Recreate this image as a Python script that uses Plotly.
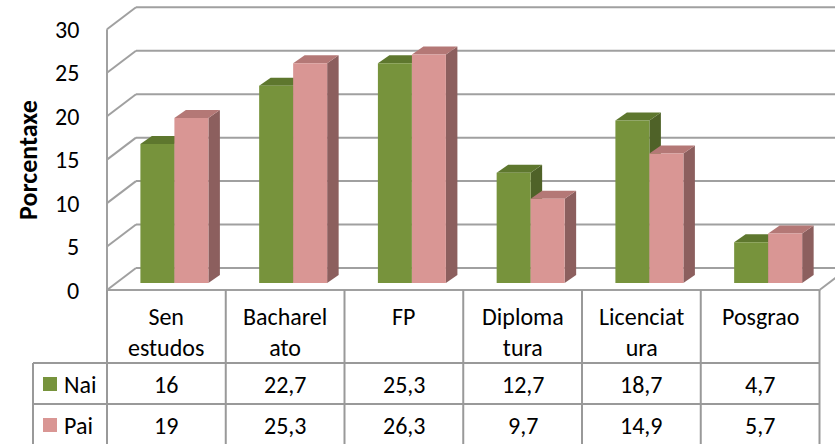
import plotly.graph_objects as go

# ---------------- data ----------------
categories = ["Sen estudos", "Bacharelato", "FP", "Diplomatura", "Licenciatura", "Posgrao"]
header_labels = ["Sen<br>estudos", "Bacharel<br>ato", "FP", "Diploma<br>tura", "Licenciat<br>ura", "Posgrao"]
series_names = ["Nai", "Pai"]
nai = [16, 22.7, 25.3, 12.7, 18.7, 4.7]
pai = [19, 25.3, 26.3, 9.7, 14.9, 5.7]
y_ticks = [0, 5, 10, 15, 20, 25, 30]
y_title = "Porcentaxe"

# ---------------- styling / geometry ----------------
W, H = 835, 444
KY = 8.69          # px per value unit
KX = 118.75        # px per category
X0PX = 174.4       # pixel x of category 0 (bar pair centre)
Y0PX = 283.0       # pixel y of value 0 on the bar plane
FONT = "Carlito, Lato, sans-serif"
FS = 24
TITLE_FS = 26
GRID = "#a0a0a0"
TABLE = "#999999"
front_cols = ["#77933c", "#d99694"]
top_cols = ["#5e772e", "#b47876"]
side_cols = ["#4f6228", "#8c5f5e"]

xr = [-X0PX / KX, (W - X0PX) / KX]
yr = [(Y0PX - H) / KY, Y0PX / KY]

def dxu(p):
    return p / KX

def dyu(p):
    return p / KY

def px_x(p):  # pixel -> data x
    return (p - X0PX) / KX

def pp_x(p):
    return p / W

def pp_y(p):
    return 1 - p / H

BW = dxu(34)
DX, DY = dxu(11.5), dyu(8)
FO = -dyu(7)     # front plane offset
BO = dyu(15)     # back wall offset
LX = px_x(107)   # front-left x
BLX = px_x(136)  # back-left x
RX = LX + len(categories)  # front-right x

fig = go.Figure()
xs = list(range(len(categories)))
for k, (name, vals) in enumerate(zip(series_names, [nai, pai])):
    fig.add_trace(go.Bar(
        x=xs, y=vals, name=name, width=BW, offset=(-BW if k == 0 else 0),
        marker=dict(color=front_cols[k], line=dict(width=0)), showlegend=False,
        hoverinfo="x+y"))

shapes = []
line = dict(color=GRID, width=2)
# back wall gridlines + left wall diagonals
for v in y_ticks:
    shapes.append(dict(type="line", xref="x", yref="y", x0=BLX, x1=xr[1] + 1,
                       y0=v + BO, y1=v + BO, line=line, layer="below"))
    shapes.append(dict(type="line", xref="x", yref="y", x0=LX, x1=BLX,
                       y0=v + FO, y1=v + BO, line=line, layer="below"))
# front-left vertical axis
shapes.append(dict(type="line", xref="x", yref="y", x0=LX, x1=LX,
                   y0=y_ticks[0] + FO, y1=y_ticks[-1] + FO, line=line, layer="below"))
# floor front edge and right diagonal
shapes.append(dict(type="line", xref="x", yref="y", x0=LX, x1=RX,
                   y0=FO, y1=FO, line=line, layer="below"))
shapes.append(dict(type="line", xref="x", yref="y", x0=RX, x1=RX + (BLX - LX),
                   y0=FO, y1=BO, line=line, layer="below"))

# 3D faces of bars
def poly(pts):
    return "M " + " L ".join(f"{x},{y}" for x, y in pts) + " Z"

for k, vals in enumerate([nai, pai]):
    for i, v in enumerate(vals):
        xl = i - BW if k == 0 else i
        xrr = xl + BW
        side = [(xrr, 0), (xrr + DX, DY), (xrr + DX, v + DY), (xrr, v)]
        top = [(xl, v), (xrr, v), (xrr + DX, v + DY), (xl + DX, v + DY)]
        shapes.append(dict(type="path", xref="x", yref="y", path=poly(side),
                           fillcolor=side_cols[k], line=dict(width=0), layer="below"))
        shapes.append(dict(type="path", xref="x", yref="y", path=poly(top),
                           fillcolor=top_cols[k], line=dict(width=0), layer="below"))

# data table grid
tline = dict(color=TABLE, width=2)
row_y = [290, 363, 404]
for j in range(len(categories) + 1):
    shapes.append(dict(type="line", xref="x", yref="paper", x0=LX + j, x1=LX + j,
                       y0=pp_y(290), y1=pp_y(H + 5), line=tline))
shapes.append(dict(type="line", xref="paper", yref="paper", x0=pp_x(33), x1=pp_x(33),
                   y0=pp_y(363), y1=pp_y(H + 5), line=tline))
for ry in row_y[1:]:
    shapes.append(dict(type="line", xref="paper", yref="paper", x0=pp_x(33), x1=pp_x(107) + (RX - LX) * KX / W,
                       y0=pp_y(ry), y1=pp_y(ry), line=tline))
# legend keys
key_y = [384, 425]
for k in range(2):
    shapes.append(dict(type="rect", xref="paper", yref="paper", x0=pp_x(43), x1=pp_x(57),
                       y0=pp_y(key_y[k] - 7), y1=pp_y(key_y[k] + 7),
                       fillcolor=front_cols[k], line=dict(width=0)))

ann = []
font = dict(family=FONT, size=FS, color="#000000")
for v in y_ticks:
    ann.append(dict(xref="paper", yref="y", x=pp_x(81), y=v + FO, text=str(v),
                    xanchor="right", yanchor="middle", showarrow=False, font=font))
ann.append(dict(xref="paper", yref="paper", x=pp_x(28), y=pp_y(160), text=f"<b>{y_title}</b>",
                textangle=-90, showarrow=False, font=dict(family=FONT, size=TITLE_FS, color="#000000"),
                xanchor="center", yanchor="middle"))
for i, lab in enumerate(header_labels):
    ann.append(dict(xref="x", yref="paper", x=LX + i + 0.5, y=pp_y(300), text=lab,
                    xanchor="center", yanchor="top", showarrow=False, font=font))

def fmt(v):
    return f"{v:g}".replace(".", ",")

for k, vals in enumerate([nai, pai]):
    for i, v in enumerate(vals):
        ann.append(dict(xref="x", yref="paper", x=LX + i + 0.5, y=pp_y(key_y[k]), text=fmt(v),
                        xanchor="center", yanchor="middle", showarrow=False, font=font))
    ann.append(dict(xref="paper", yref="paper", x=pp_x(62), y=pp_y(key_y[k]), text=series_names[k],
                    xanchor="left", yanchor="middle", showarrow=False, font=font))

fig.update_layout(
    width=W, height=H, autosize=False,
    margin=dict(l=0, r=0, t=0, b=0, pad=0),
    paper_bgcolor="white", plot_bgcolor="white",
    barmode="overlay",
    xaxis=dict(range=xr, visible=False, fixedrange=True),
    yaxis=dict(range=yr, visible=False, fixedrange=True),
    shapes=shapes, annotations=ann, showlegend=False,
)
fig.write_html("out.html", config={"displayModeBar": False},
               post_script="document.body.style.margin='0';document.body.style.padding='0';")
